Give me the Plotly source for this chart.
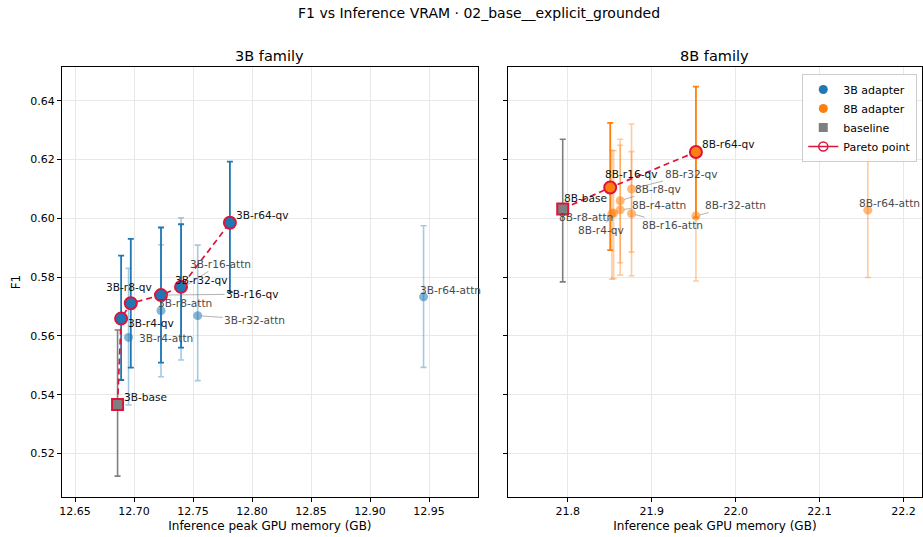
import plotly.graph_objects as go

# ---------------- data ----------------
names_3b = ["3B-base", "3B-r4-qv", "3B-r4-attn", "3B-r8-qv", "3B-r8-attn", "3B-r16-qv",
            "3B-r16-attn", "3B-r32-qv", "3B-r32-attn", "3B-r64-qv", "3B-r64-attn"]
mem_3b = [12.686, 12.689, 12.6953, 12.6972, 12.7228, 12.7228, 12.7398, 12.7398, 12.7539, 12.7812, 12.9453]
f1_3b = [0.5367, 0.5659, 0.5595, 0.5711, 0.5686, 0.5739, 0.5760, 0.5767, 0.5669, 0.5985, 0.5733]
lo_3b = [0.5123, 0.5450, 0.5365, 0.5492, 0.5461, 0.5509, 0.5518, 0.5560, 0.5448, 0.5749, 0.5493]
hi_3b = [0.5620, 0.5873, 0.5830, 0.5930, 0.5910, 0.5969, 0.6002, 0.5980, 0.5909, 0.6193, 0.5975]

names_8b = ["8B-base", "8B-r4-qv", "8B-r4-attn", "8B-r8-qv", "8B-r8-attn", "8B-r16-qv",
            "8B-r16-attn", "8B-r32-qv", "8B-r32-attn", "8B-r64-qv", "8B-r64-attn"]
mem_8b = [21.794, 21.8546, 21.8625, 21.8625, 21.8526, 21.8506, 21.876, 21.876, 21.9527, 21.9527, 22.1575]
f1_8b = [0.6032, 0.6018, 0.6029, 0.6060, 0.6016, 0.6105, 0.6016, 0.6100, 0.6008, 0.6226, 0.6028]
lo_8b = [0.5784, 0.5795, 0.5807, 0.5849, 0.5793, 0.5892, 0.5805, 0.5885, 0.5787, 0.6003, 0.5799]
hi_8b = [0.6269, 0.6230, 0.6249, 0.6269, 0.6232, 0.6325, 0.6227, 0.6321, 0.6229, 0.6448, 0.6257]

y_ticks = [0.52, 0.54, 0.56, 0.58, 0.60, 0.62, 0.64]
x_ticks_3b = [12.65, 12.70, 12.75, 12.80, 12.85, 12.90, 12.95]
x_ticks_8b = [21.8, 21.9, 22.0, 22.1, 22.2]

# ---------------- label placement (screen px) ----------------
label_pos = {
    "3B-base": ("left", 4, -7), "3B-r4-qv": ("left", 5, 4), "3B-r8-qv": ("left", -27, -16),
    "3B-r4-attn": ("left", 8, 1), "3B-r8-attn": ("left", -5, -8), "3B-r32-qv": ("left", -8, -7),
    "3B-r16-attn": ("arrow", 39, -25), "3B-r16-qv": ("arrow", 91, -1), "3B-r32-attn": ("arrow", 57, 4),
    "3B-r64-qv": ("left", 4, -8), "3B-r64-attn": ("left", -6, -7),
    "8B-base": ("left", -1, -11), "8B-r16-qv": ("left", -7, -14), "8B-r64-qv": ("left", 4, -8),
    "8B-r32-qv": ("arrow", 59, -15), "8B-r8-qv": ("arrow", 38, -12), "8B-r4-attn": ("arrow", 39, -5),
    "8B-r16-attn": ("arrow", 41, 11), "8B-r32-attn": ("arrow", 40, -11), "8B-r8-attn": ("left", -55, 3),
    "8B-r4-qv": ("arrow", -13, 17), "8B-r64-attn": ("left", -11, -7),
}

W, H = 923, 537
FONT = "DejaVu Sans"
CRIMSON = "#dc143c"
GRAY = "#7f7f7f"
LABEL_SIZE = 10.6


def pareto_flags(mem, f1):
    order = sorted(range(len(mem)), key=lambda i: (mem[i], -f1[i]))
    best = -1.0
    flags = [False] * len(mem)
    for i in order:
        if f1[i] > best:
            flags[i] = True
            best = f1[i]
    return flags


fig = go.Figure()
annotations = []

families = [
    (names_3b, mem_3b, f1_3b, lo_3b, hi_3b, "#1f77b4", (31, 119, 180), "x", "y"),
    (names_8b, mem_8b, f1_8b, lo_8b, hi_8b, "#ff7f0e", (255, 127, 14), "x2", "y2"),
]

for names, mem, f1, lo, hi, col, rgb, xa, ya in families:
    par = pareto_flags(mem, f1)
    is_base = [n.endswith("-base") for n in names]
    light = [i for i in range(len(names)) if not par[i] and not is_base[i]]
    dark = [i for i in range(len(names)) if par[i] and not is_base[i]]
    base = [i for i in range(len(names)) if is_base[i]]
    rgba_l = "rgba(%d,%d,%d,0.40)" % rgb
    rgba_m = "rgba(%d,%d,%d,0.55)" % rgb

    def sel(arr, idx):
        return [arr[i] for i in idx]

    # light (non-pareto) points with error bars
    fig.add_trace(go.Scatter(
        x=sel(mem, light), y=sel(f1, light), mode="markers", xaxis=xa, yaxis=ya,
        marker=dict(size=9, color=rgba_m),
        error_y=dict(type="data", symmetric=False,
                     array=[hi[i] - f1[i] for i in light], arrayminus=[f1[i] - lo[i] for i in light],
                     color=rgba_l, thickness=1.6, width=3),
        showlegend=False, hoverinfo="skip"))
    # dark error bars for pareto points
    fig.add_trace(go.Scatter(
        x=sel(mem, dark), y=sel(f1, dark), mode="markers", xaxis=xa, yaxis=ya,
        marker=dict(size=1, color="rgba(0,0,0,0)"),
        error_y=dict(type="data", symmetric=False,
                     array=[hi[i] - f1[i] for i in dark], arrayminus=[f1[i] - lo[i] for i in dark],
                     color=col, thickness=1.8, width=3),
        showlegend=False, hoverinfo="skip"))
    # baseline error bar
    fig.add_trace(go.Scatter(
        x=sel(mem, base), y=sel(f1, base), mode="markers", xaxis=xa, yaxis=ya,
        marker=dict(size=1, color="rgba(0,0,0,0)"),
        error_y=dict(type="data", symmetric=False,
                     array=[hi[i] - f1[i] for i in base], arrayminus=[f1[i] - lo[i] for i in base],
                     color=GRAY, thickness=1.6, width=3),
        showlegend=False, hoverinfo="skip"))
    # pareto dashed line
    pidx = sorted([i for i in range(len(names)) if par[i]], key=lambda i: mem[i])
    fig.add_trace(go.Scatter(
        x=sel(mem, pidx), y=sel(f1, pidx), mode="lines", xaxis=xa, yaxis=ya,
        line=dict(color=CRIMSON, width=1.7, dash="6px,4px"),
        showlegend=False, hoverinfo="skip"))
    # pareto markers
    fig.add_trace(go.Scatter(
        x=sel(mem, dark), y=sel(f1, dark), mode="markers", xaxis=xa, yaxis=ya,
        marker=dict(size=12, color=col, line=dict(color=CRIMSON, width=2)),
        showlegend=False, hoverinfo="skip"))
    fig.add_trace(go.Scatter(
        x=sel(mem, base), y=sel(f1, base), mode="markers", xaxis=xa, yaxis=ya,
        marker=dict(size=11, symbol="square", color=GRAY, line=dict(color=CRIMSON, width=2)),
        showlegend=False, hoverinfo="skip"))

    # labels
    for i, n in enumerate(names):
        mode, dx, dy = label_pos[n]
        tcol = "#111111" if (par[i] or is_base[i]) else "#4a4a4a"
        if mode == "left":
            annotations.append(dict(
                x=mem[i], y=f1[i], xref=xa, yref=ya, text=n, showarrow=False,
                xanchor="left", yanchor="middle", xshift=dx, yshift=-dy,
                font=dict(family=FONT, size=LABEL_SIZE, color=tcol)))
        else:
            annotations.append(dict(
                x=mem[i], y=f1[i], xref=xa, yref=ya, text=n, showarrow=True,
                ax=dx, ay=dy, arrowhead=0, arrowwidth=0.8, arrowcolor="rgba(120,120,120,0.7)",
                standoff=4, font=dict(family=FONT, size=LABEL_SIZE, color=tcol)))

# legend entries
fig.add_trace(go.Scatter(x=[None], y=[None], mode="markers", name="3B adapter",
                         marker=dict(size=9, color="#1f77b4"), xaxis="x2", yaxis="y2"))
fig.add_trace(go.Scatter(x=[None], y=[None], mode="markers", name="8B adapter",
                         marker=dict(size=9, color="#ff7f0e"), xaxis="x2", yaxis="y2"))
fig.add_trace(go.Scatter(x=[None], y=[None], mode="markers", name="baseline",
                         marker=dict(size=9, symbol="square", color=GRAY), xaxis="x2", yaxis="y2"))
fig.add_trace(go.Scatter(x=[None], y=[None], mode="lines+markers", name="Pareto point",
                         line=dict(color=CRIMSON, width=1.5),
                         marker=dict(size=9, symbol="circle-open", color=CRIMSON, line=dict(width=1.5)),
                         xaxis="x2", yaxis="y2"))

# titles
annotations += [
    dict(text="F1 vs Inference VRAM · 02_base__explicit_grounded", xref="paper", yref="paper",
         x=478 / W, y=1 - 13 / H, showarrow=False, xanchor="center", yanchor="middle",
         font=dict(family=FONT, size=14, color="#000")),
    dict(text="3B family", xref="paper", yref="paper", x=268.5 / W, y=1 - 56 / H, showarrow=False,
         xanchor="center", yanchor="middle", font=dict(family=FONT, size=14.5, color="#000")),
    dict(text="8B family", xref="paper", yref="paper", x=714.5 / W, y=1 - 56 / H, showarrow=False,
         xanchor="center", yanchor="middle", font=dict(family=FONT, size=14.5, color="#000")),
]

axis_common = dict(showline=True, mirror=True, linecolor="#000", linewidth=1,
                   ticks="outside", ticklen=4, tickcolor="#000", tickwidth=1,
                   showgrid=True, gridcolor="#e8e8e8", gridwidth=1, zeroline=False,
                   tickfont=dict(family=FONT, size=11, color="#000"))
xtitle = dict(text="Inference peak GPU memory (GB)", font=dict(family=FONT, size=12, color="#000"),
              standoff=4)

yd = [1 - 497 / H, 1 - 67 / H]
fig.update_layout(
    width=W, height=H, margin=dict(l=0, r=0, t=0, b=0),
    paper_bgcolor="white", plot_bgcolor="white",
    font=dict(family=FONT),
    xaxis=dict(domain=[60 / W, 477 / W], range=[12.6388, 12.9914], tickvals=x_ticks_3b,
               tickformat=".2f", anchor="y", title=xtitle, **axis_common),
    yaxis=dict(domain=yd, range=[0.5052, 0.6515], tickvals=y_ticks, tickformat=".2f", anchor="x",
               title=dict(text="F1", font=dict(family=FONT, size=12, color="#000"), standoff=6),
               **axis_common),
    xaxis2=dict(domain=[507 / W, 922 / W], range=[21.7287, 22.222], tickvals=x_ticks_8b,
                tickformat=".1f", anchor="y2", title=xtitle, **axis_common),
    yaxis2=dict(domain=yd, range=[0.5052, 0.6515], tickvals=y_ticks, showticklabels=False,
                anchor="x2", matches="y", **axis_common),
    legend=dict(x=802 / W, y=1 - 74 / H, xanchor="left", yanchor="top",
                bgcolor="rgba(255,255,255,0.85)", bordercolor="#cccccc", borderwidth=1,
                font=dict(family=FONT, size=11, color="#000"), tracegroupgap=0,
                itemwidth=30),
    annotations=annotations,
)

fig.write_html("out.html")
